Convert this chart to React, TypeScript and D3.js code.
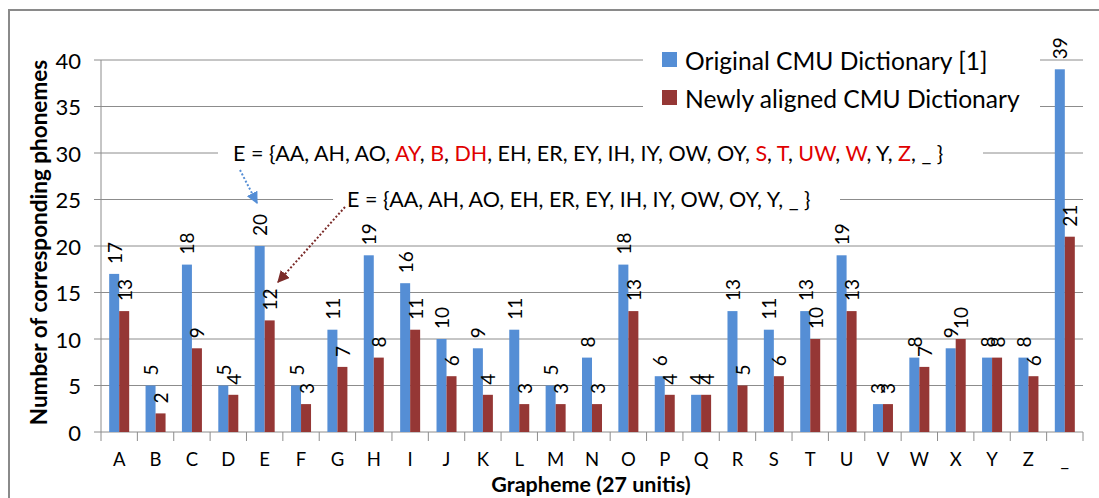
import React from "react";
import * as d3 from "d3";

const categories = ["A","B","C","D","E","F","G","H","I","J","K","L","M","N","O","P","Q","R","S","T","U","V","W","X","Y","Z","_"];
const originalCMU = [17,5,18,5,20,5,11,19,16,10,9,11,5,8,18,6,4,13,11,13,19,3,8,9,8,8,39];
const newlyAligned = [13,2,9,4,12,3,7,8,11,6,4,3,3,3,13,4,4,5,6,10,13,3,7,10,8,6,21];
const seriesNames = ["Original CMU Dictionary [1]", "Newly aligned CMU Dictionary"];
const seriesColors = ["#558ed5", "#953735"];
const yTicks = [0,5,10,15,20,25,30,35,40];
const annot1: [string, boolean][] = [["E = {AA, AH, AO, ", false],["AY", true],[", ", false],["B", true],[", ", false],["DH", true],[", EH, ER, EY, IH, IY, OW, OY, ", false],["S", true],[", ", false],["T", true],[", ", false],["UW", true],[", ", false],["W", true],[", Y, ", false],["Z", true],[", _ }", false]];
const annot2 = "E = {AA, AH, AO, EH, ER, EY, IH, IY, OW, OY, Y, _ }";

const W = 1099, H = 498;
const L = 101, R = 1083, T = 60, B = 432;
const FONT = "Lato, 'Open Sans', sans-serif";

export default function App() {
  const x0 = d3.scaleBand<string>().domain(categories).range([L, R]).padding(0);
  const bw = x0.bandwidth();
  const x1 = d3.scaleBand<number>().domain([0, 1]).range([bw / 2 - 10, bw / 2 + 10]).padding(0);
  const y = d3.scaleLinear().domain([0, 40]).range([B, T]);
  const series = [originalCMU, newlyAligned];

  return (
    <svg width={W} height={H} style={{ position: "absolute", left: 0, top: 0 }} fontFamily={FONT}>
      <defs>
        <marker id="arrBlue" viewBox="0 0 10 10" refX="9" refY="5" markerWidth="6" markerHeight="6" orient="auto">
          <path d="M0,0 L10,5 L0,10 z" fill="#558ed5" />
        </marker>
        <marker id="arrRed" viewBox="0 0 10 10" refX="9" refY="5" markerWidth="6" markerHeight="6" orient="auto">
          <path d="M0,0 L10,5 L0,10 z" fill="#7b2c2a" />
        </marker>
      </defs>
      <rect x={0} y={0} width={W} height={H} fill="#fff" />
      <rect x={9} y={10} width={W + 20} height={H + 20} fill="#fff" stroke="#8a8a8a" strokeWidth={2} />

      {/* gridlines */}
      {yTicks.map(t => (
        <line key={"g" + t} x1={L - 7} x2={R} y1={y(t)} y2={y(t)} stroke="#8c8c8c" strokeWidth={1} />
      ))}
      {/* y axis */}
      <line x1={L} x2={L} y1={T} y2={B + 9} stroke="#8c8c8c" strokeWidth={1} />
      {/* x ticks */}
      {categories.map(c => (
        <line key={"xt" + c} x1={x0(c)! + bw} x2={x0(c)! + bw} y1={B} y2={B + 9} stroke="#8c8c8c" strokeWidth={1} />
      ))}
      {/* y tick labels */}
      {yTicks.map(t => (
        <text key={"yl" + t} x={81} y={y(t)} textAnchor="end" dominantBaseline="central" fontSize={22} fill="#000">{t}</text>
      ))}
      {/* x labels */}
      {categories.map(c => (
        <text key={"xl" + c} x={x0(c)! + bw / 2} y={466} textAnchor="middle" fontSize={18.5} fill="#000">{c}</text>
      ))}

      {/* bars */}
      {series.map((vals, s) => vals.map((v, i) => (
        <rect key={"b" + s + i} x={x0(categories[i])! + x1(s)!} y={y(v)} width={x1.bandwidth()} height={B - y(v)} fill={seriesColors[s]} />
      )))}

      {/* value labels */}
      {series.map((vals, s) => vals.map((v, i) => {
        const cx = x0(categories[i])! + x1(s)! + x1.bandwidth() / 2;
        const cy = y(v) - 10;
        return (
          <text key={"v" + s + i} transform={`translate(${cx},${cy}) rotate(-90)`} textAnchor="start" dominantBaseline="central" fontSize={19} fill="#000">{v}</text>
        );
      }))}

      {/* legend */}
      <rect x={643} y={40} width={397} height={80} fill="#fff" />
      {seriesNames.map((n, i) => (
        <g key={"lg" + i} transform={`translate(662,${52 + i * 38})`}>
          <rect x={0} y={0} width={15} height={15} fill={seriesColors[i]} />
          <text x={23} y={8} dominantBaseline="central" fontSize={24.6} fill="#000">{n}</text>
        </g>
      ))}

      {/* annotations */}
      <rect x={218} y={140} width={765} height={26} fill="#fff" />
      <text x={233} y={153} dominantBaseline="central" fontSize={21.5} fill="#000">
        {annot1.map(([t, red], i) => <tspan key={i} fill={red ? "#e00000" : "#000"}>{t}</tspan>)}
      </text>
      <rect x={333} y={187} width={507} height={26} fill="#fff" />
      <text x={347} y={199} dominantBaseline="central" fontSize={21.5} fill="#000">{annot2}</text>

      <line x1={240} y1={170} x2={257} y2={203} stroke="#558ed5" strokeWidth={2} strokeDasharray="2,2" markerEnd="url(#arrBlue)" />
      <line x1={345} y1={207} x2={278} y2={282} stroke="#7b2c2a" strokeWidth={2} strokeDasharray="2,2" markerEnd="url(#arrRed)" />

      {/* axis titles */}
      <text transform={`translate(38,242.5) rotate(-90)`} textAnchor="middle" dominantBaseline="central" fontSize={22.5} fontWeight="bold" fill="#000">Number of corresponding phonemes</text>
      <text x={591} y={492} textAnchor="middle" fontSize={21.5} fontWeight="bold" fill="#000">Grapheme (27 unitis)</text>
    </svg>
  );
}
